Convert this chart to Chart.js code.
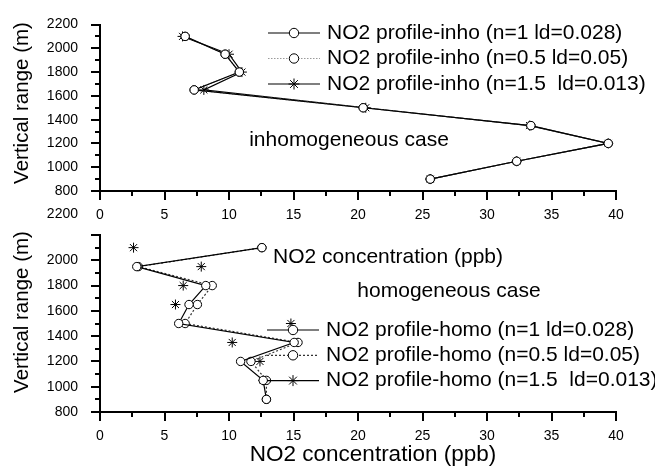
<!DOCTYPE html>
<html>
<head>
<meta charset="utf-8">
<script src="https://cdn.jsdelivr.net/npm/chart.js@4.4.1/dist/chart.umd.min.js"></script>
<style>
  body { margin: 0; background: #fff; }
  #wrap { position: relative; width: 655px; height: 475px; }
  #wrap canvas { position: absolute; left: 0; top: 0; }
</style>
</head>
<body>
<div id="wrap">
  <canvas id="chartInho" width="655" height="475"></canvas>
  <canvas id="chartHomo" width="655" height="475"></canvas>
</div>
<script>
// Perfiles verticales de NO2 (ppb) frente a altura (m)
const alturas = [2100, 1950, 1800, 1650, 1500, 1350, 1200, 1050, 900];

// caso inhomogéneo
const inhoN1  = [6.6, 9.7, 10.8, 7.3, 20.4, 33.4, 39.4, 32.3, 25.6];
const inhoN05 = [6.6, 9.7, 10.8, 7.3, 20.4, 33.4, 39.4, 32.3, 25.6];
const inhoN15 = [6.4, 10.0, 11.0, 8.05, 20.6, 33.3, 39.4, 32.3, 25.6];

// caso homogéneo
const homoN1  = [12.55, 2.85, 8.2, 6.9, 6.1, 15.05, 10.9, 12.65, 12.9];
const homoN05 = [12.55, 2.97, 8.7, 7.55, 6.6, 15.35, 11.7, 12.9, 12.9];
const alturasHomoN15 = [2250, 2100, 1950, 1800, 1650, 1500, 1350, 1200, 1050];
const homoN15 = [12.55, 2.6, 7.85, 6.45, 5.85, 14.8, 10.25, 12.4, 12.65];

const etiquetasInho = [
  'NO2 profile-inho (n=1 ld=0.028)',
  'NO2 profile-inho (n=0.5 ld=0.05)',
  'NO2 profile-inho (n=1.5  ld=0.013)'
];
const etiquetasHomo = [
  'NO2 profile-homo (n=1 ld=0.028)',
  'NO2 profile-homo (n=0.5 ld=0.05)',
  'NO2 profile-homo (n=1.5  ld=0.013)'
];

const xTicks = { min: 0, max: 40, step: 2.5, major: 5 };
const yTicks = { min: 800, max: 2200, step: 100, major: 200 };

const FAMILIA = "'Liberation Sans', Arial, sans-serif";
const pares = (xs, ys) => xs.map((v, i) => ({ x: v, y: ys[i] }));

// marcas de eje hacia fuera, largas en las principales y cortas en las menores
const marcasEje = {
  id: 'marcasEje',
  afterDraw(chart) {
    const { ctx, scales: { x, y } } = chart;
    ctx.save();
    ctx.strokeStyle = '#000';
    ctx.lineWidth = 2;
    ctx.beginPath();
    for (let v = xTicks.min; v <= xTicks.max + 1e-6; v += xTicks.step) {
      const px = Math.round(x.getPixelForValue(v));
      const len = Math.abs(v % xTicks.major) < 1e-6 ? 9 : 5;
      ctx.moveTo(px, x.top); ctx.lineTo(px, x.top + len);
    }
    for (let v = yTicks.min; v <= yTicks.max; v += yTicks.step) {
      const py = Math.round(y.getPixelForValue(v));
      const len = v % yTicks.major === 0 ? 9 : 5;
      ctx.moveTo(y.right, py); ctx.lineTo(y.right - len, py);
    }
    ctx.stroke();
    ctx.restore();
  }
};

// leyenda estilo Origin: segmento de línea con el marcador en el centro
const leyenda = {
  id: 'leyenda',
  afterDraw(chart, args, opts) {
    const { ctx } = chart;
    ctx.save();
    chart.data.datasets.forEach((ds, i) => {
      const y = opts.y + i * opts.paso;
      const x0 = opts.x, x1 = opts.x + opts.largo, xm = (x0 + x1) / 2;
      ctx.strokeStyle = ds.borderColor;
      ctx.lineWidth = ds.borderWidth;
      ctx.setLineDash(ds.borderDash || []);
      ctx.beginPath();
      ctx.moveTo(x0, y); ctx.lineTo(x1, y);
      ctx.stroke();
      ctx.setLineDash([]);
      ctx.fillStyle = '#fff';
      ctx.strokeStyle = '#000';
      ctx.lineWidth = 1;
      Chart.helpers.drawPoint(ctx, {
        pointStyle: ds.pointStyle, radius: ds.pointRadius + 0.5, rotation: 0, borderWidth: 1
      }, xm, y);
      ctx.fillStyle = '#000';
      ctx.font = opts.font;
      ctx.textBaseline = 'middle';
      ctx.textAlign = 'left';
      ctx.fillText(ds.label, x1 + 7, y);
    });
    ctx.restore();
  }
};

// rótulos de texto libres (títulos de ejes y nombres de caso)
const rotulos = {
  id: 'rotulos',
  afterDraw(chart, args, opts) {
    const { ctx } = chart;
    (opts.items || []).forEach(r => {
      ctx.save();
      ctx.fillStyle = '#000';
      ctx.textAlign = 'center';
      ctx.textBaseline = 'middle';
      ctx.font = r.font;
      ctx.translate(r.x, r.y);
      if (r.giro) ctx.rotate(r.giro);
      ctx.fillText(r.text, 0, 0);
      ctx.restore();
    });
  }
};

function serie(label, datos, estilo) {
  return Object.assign({
    label, data: datos,
    borderColor: '#000', borderWidth: 1.2,
    backgroundColor: '#fff',
    pointBackgroundColor: '#fff', pointBorderColor: '#000', pointBorderWidth: 1,
    pointRadius: 4.2, pointStyle: 'circle',
    tension: 0
  }, estilo);
}

function ejes(yCallback, xAlto) {
  const fuenteTicks = { family: FAMILIA, size: 14, lineHeight: 1.5 };
  return {
    x: {
      type: 'linear', min: xTicks.min, max: xTicks.max,
      grid: { display: false },
      border: { color: '#000', width: 2 },
      ticks: {
        stepSize: xTicks.step, padding: 6, color: '#000', font: fuenteTicks,
        autoSkip: false, maxRotation: 0,
        callback: v => (Math.abs(v % xTicks.major) < 1e-6 ? String(v) : '')
      },
      afterFit: s => { s.height = xAlto; }
    },
    y: {
      type: 'linear', min: yTicks.min, max: yTicks.max,
      grid: { display: false },
      border: { color: '#000', width: 2 },
      ticks: {
        stepSize: yTicks.step, padding: 14, color: '#000', font: fuenteTicks,
        autoSkip: false,
        callback: yCallback
      },
      afterFit: s => { s.width = 100; }
    }
  };
}

const comunes = {
  responsive: false,
  animation: false,
  events: [],
  plugins: { legend: { display: false }, tooltip: { enabled: false } }
};

const fuenteTexto = '21px ' + FAMILIA;
const vertical = -Math.PI / 2;

new Chart(document.getElementById('chartInho'), {
  type: 'line',
  data: {
    datasets: [
      serie(etiquetasInho[0], pares(inhoN1, alturas), {}),
      serie(etiquetasInho[1], pares(inhoN05, alturas), { borderColor: '#9a9a9a', borderDash: [1.5, 1.5] }),
      serie(etiquetasInho[2], pares(inhoN15, alturas), { pointStyle: 'star', pointRadius: 5 })
    ]
  },
  options: Object.assign({}, comunes, {
    layout: { padding: { left: 0, right: 39, top: 15, bottom: 240 } },
    scales: ejes(v => (v % yTicks.major === 0 ? String(v) : ''), 44),
    plugins: Object.assign({}, comunes.plugins, {
      leyenda: { x: 268, y: 33, paso: 25.5, largo: 52, font: fuenteTexto },
      rotulos: { items: [
        { text: 'Vertical range (m)', x: 22, y: 103, giro: vertical, font: '20.5px ' + FAMILIA },
        { text: 'inhomogeneous case', x: 349, y: 140, font: fuenteTexto },
        { text: 'NO2 concentration (ppb)', x: 388, y: 257, font: fuenteTexto }
      ] }
    })
  }),
  plugins: [marcasEje, leyenda, rotulos]
});

new Chart(document.getElementById('chartHomo'), {
  type: 'line',
  data: {
    datasets: [
      serie(etiquetasHomo[0], pares(homoN1, alturas), {}),
      serie(etiquetasHomo[1], pares(homoN05, alturas), { borderColor: '#333', borderDash: [2, 2] }),
      serie(etiquetasHomo[2], pares(homoN15, alturasHomoN15), {
        pointStyle: 'star', pointRadius: 5, showLine: false, clip: false
      })
    ]
  },
  options: Object.assign({}, comunes, {
    layout: { padding: { left: 0, right: 39, top: 235, bottom: 0 } },
    // la etiqueta 2200 se dibuja algo por encima de su marca
    scales: ejes(v => (v === yTicks.max ? [String(v), '', ''] : (v % yTicks.major === 0 ? String(v) : '')), 63),
    plugins: Object.assign({}, comunes.plugins, {
      leyenda: { x: 267, y: 330, paso: 25.3, largo: 52, font: fuenteTexto },
      rotulos: { items: [
        { text: 'Vertical range (m)', x: 22, y: 312, giro: vertical, font: '20.5px ' + FAMILIA },
        { text: 'homogeneous case', x: 449, y: 291, font: fuenteTexto },
        { text: 'NO2 concentration (ppb)', x: 373, y: 455, font: '22.5px ' + FAMILIA }
      ] }
    })
  }),
  plugins: [marcasEje, leyenda, rotulos]
});
</script>
</body>
</html>
